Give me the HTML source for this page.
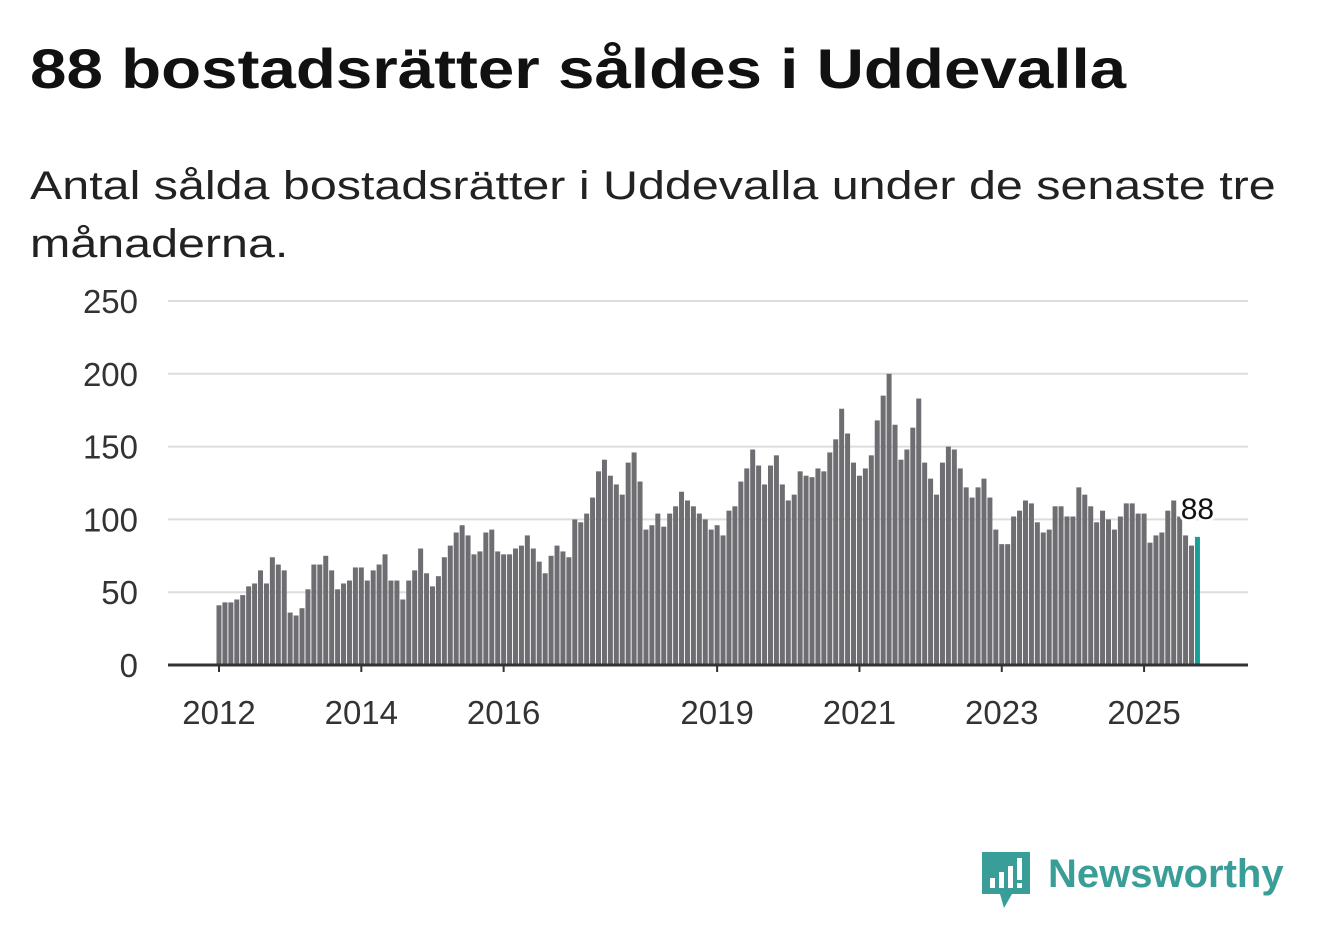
<!DOCTYPE html>
<html><head><meta charset="utf-8"><style>
body{margin:0;background:#fff;width:1322px;height:939px;overflow:hidden;font-family:"Liberation Sans",sans-serif;}
h1{position:absolute;left:30px;top:36px;margin:0;font-size:56px;font-weight:bold;color:#111;transform:scaleX(1.17);transform-origin:0 0;white-space:nowrap}
.sub{position:absolute;left:30px;top:157px;margin:0;font-size:40px;color:#222;line-height:58px;transform:scaleX(1.21);transform-origin:0 0;white-space:nowrap}
svg{position:absolute;left:0;top:0}
</style></head><body>
<h1>88 bostadsrätter såldes i Uddevalla</h1>
<p class="sub">Antal sålda bostadsrätter i Uddevalla under de senaste tre<br>månaderna.</p>
<svg id="chart" width="1322" height="939"></svg>
<div style="position:absolute;left:982px;top:850px;width:320px;height:60px">
<svg width="50" height="60" style="position:absolute;left:0;top:0">
<path d="M0 2h48v42H30l-8 14-4-14H0z" fill="#3a9e98"/>
<rect x="8" y="28" width="5" height="10" fill="#fff"/><rect x="17" y="22" width="5" height="16" fill="#fff"/><rect x="26" y="16" width="5" height="22" fill="#fff"/><rect x="35" y="8" width="5" height="22" fill="#fff"/><rect x="35" y="33" width="5" height="5" fill="#fff"/>
</svg>
<span style="position:absolute;left:66px;top:2px;font-size:40px;font-weight:bold;color:#3a9e98">Newsworthy</span>
</div>
<script>
const values=[41,43,43,45,48,54,56,65,56,74,69,65,
36,34,39,52,69,69,75,65,52,56,58,67,
67,58,65,69,76,58,58,45,58,65,80,63,
54,61,74,82,91,96,89,76,78,91,93,78,
76,76,80,82,89,80,71,63,75,82,78,74,
100,98,104,115,133,141,130,124,117,139,146,126,
93,96,104,95,104,109,119,113,109,104,100,93,
96,89,106,109,126,135,148,137,124,137,144,124,
113,117,133,130,129,135,133,146,155,176,159,139,
130,135,144,168,185,200,165,141,148,163,183,139,
128,117,139,150,148,135,122,115,122,128,115,93,
83,83,102,106,113,111,98,91,93,109,109,102,
102,122,117,109,98,106,100,93,102,111,111,104,
104,84,89,91,106,113,102,89,82,88];
const yTicks=[0,50,100,150,200,250];
const xTickYears=[2012,2014,2016,2019,2021,2023,2025];
const startYear=2012;
const NS="http://www.w3.org/2000/svg";
const svg=document.getElementById('chart');
const x0=219,step=5.93,yBase=665,pxPer=364/250;
const xs=i=>x0+i*step;
const ys=v=>yBase-v*pxPer;
function mk(t,a){const e=document.createElementNS(NS,t);for(const k in a)e.setAttribute(k,a[k]);svg.appendChild(e);return e;}
yTicks.forEach(v=>{
 if(v>0){const l=mk('line',{x1:168,x2:1248,y1:ys(v),y2:ys(v),stroke:'#ddd','stroke-width':2});
 
 }
 const t=mk('text',{x:138,y:ys(v)+12,'text-anchor':'end','font-size':33,fill:'#333','font-family':'Liberation Sans, sans-serif'});
 t.textContent=v;
 
 
});
values.forEach((v,i)=>{
 const last=i===values.length-1;
 const r=mk('rect',{x:xs(i)-2.5,y:ys(v),width:5,height:v*pxPer,fill:last?'#1a9e9a':'#6e6d72'});
 
 
});
const ax=mk('line',{x1:168,x2:1248,y1:yBase,y2:yBase,stroke:'#333','stroke-width':3});


xTickYears.forEach(y=>{
 const x=xs((y-startYear)*12);
 const tk=mk('line',{x1:x,x2:x,y1:yBase,y2:yBase+7,stroke:'#333','stroke-width':2});
 
 
 const t=mk('text',{x:x,y:724,'text-anchor':'middle','font-size':33,fill:'#333','font-family':'Liberation Sans, sans-serif'});
 t.textContent=y;
 
 
});
const li=values.length-1;
const lbl=mk('text',{x:xs(li),y:ys(values[li])-18,'text-anchor':'middle','font-size':30,fill:'#111',stroke:'#fff','stroke-width':6,'paint-order':'stroke','font-family':'Liberation Sans, sans-serif'});
lbl.textContent=values[li];


</script>
</body></html>
